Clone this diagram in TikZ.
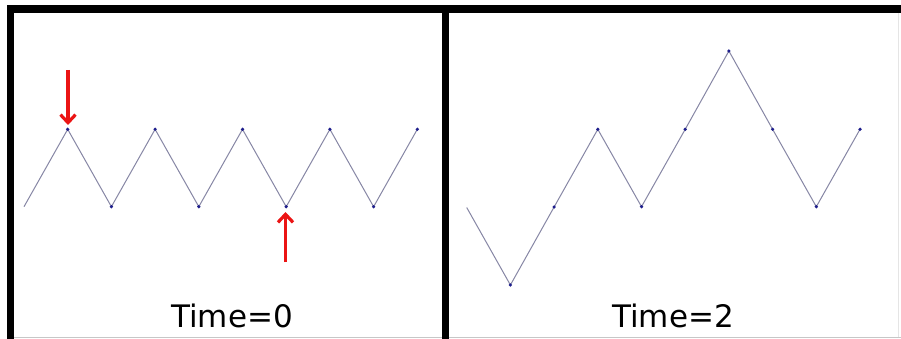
\documentclass[tikz,border=0pt]{standalone}
\usepackage{fontspec}
\setmainfont{DejaVu Sans}
\usetikzlibrary{arrows.meta}
\definecolor{wave}{RGB}{135,135,165}
\definecolor{dotc}{RGB}{30,30,140}
\definecolor{arr}{RGB}{235,20,20}
\tikzset{
  frame/.style={line width=7.5pt, black},
  wavel/.style={draw=wave, line width=1pt, line join=round},
  pt/.style={circle, fill=dotc, inner sep=0pt, minimum size=3.6pt},
  redarrow/.style={draw=arr, line width=3.2pt, -{Straight Barb[length=8pt,width=15pt,line width=3.2pt]}},
  label/.style={font=\fontsize{31}{36}\selectfont, anchor=base, inner sep=0pt}
}
\begin{document}
\begin{tikzpicture}[x=1pt,y=-1pt]
\useasboundingbox (0,0) rectangle (901,339);
\fill[white] (0,0) rectangle (901,339);
% bottom and right faint lines
\draw[black!22, line width=1.5pt] (7,337.6) -- (901,337.6);
\draw[black!10, line width=1pt] (898.5,13) -- (898.5,337);
% frame
\draw[frame, line join=miter] (10.6,339) -- (10.6,9) -- (901,9);
\draw[frame] (445.3,9) -- (445.3,339);
% left wave
\foreach \i/\x/\y in {0/24/206.7,1/67.7/129.3,2/111.4/206.7,3/155.1/129.3,4/198.8/206.7,5/242.5/129.3,6/286.2/206.7,7/329.9/129.3,8/373.6/206.7,9/417.3/129.3}
  \coordinate (L\i) at (\x,\y);
\draw[wavel] (L0) -- (L1) -- (L2) -- (L3) -- (L4) -- (L5) -- (L6) -- (L7) -- (L8) -- (L9);
\foreach \i in {1,...,9} \node[pt] (dL\i) at (L\i) {};
% right wave
\foreach \i/\x/\y in {0/466.7/207.5,1/510.4/285,2/554.1/207,3/597.8/129.3,4/641.5/206.7,5/685.2/129.3,6/728.9/51,7/772.6/129.3,8/816.3/206.7,9/860/129.3}
  \coordinate (R\i) at (\x,\y);
\draw[wavel] (R0) -- (R1) -- (R2) -- (R3) -- (R4) -- (R5) -- (R6) -- (R7) -- (R8) -- (R9);
\foreach \i in {1,...,9} \node[pt] (dR\i) at (R\i) {};
% red arrows
\coordinate (a1s) at (68,70);
\coordinate (a1e) at (68,125);
\coordinate (a2s) at (285.5,262);
\coordinate (a2e) at (285.5,212);
\draw[redarrow] (a1s) -- (a1e);
\draw[redarrow] (a2s) -- (a2e);
% labels
\node[label] (t0) at (232,327.5) {Time=0};
\node[label] (t2) at (673,327.5) {Time=2};
\end{tikzpicture}
\end{document}
